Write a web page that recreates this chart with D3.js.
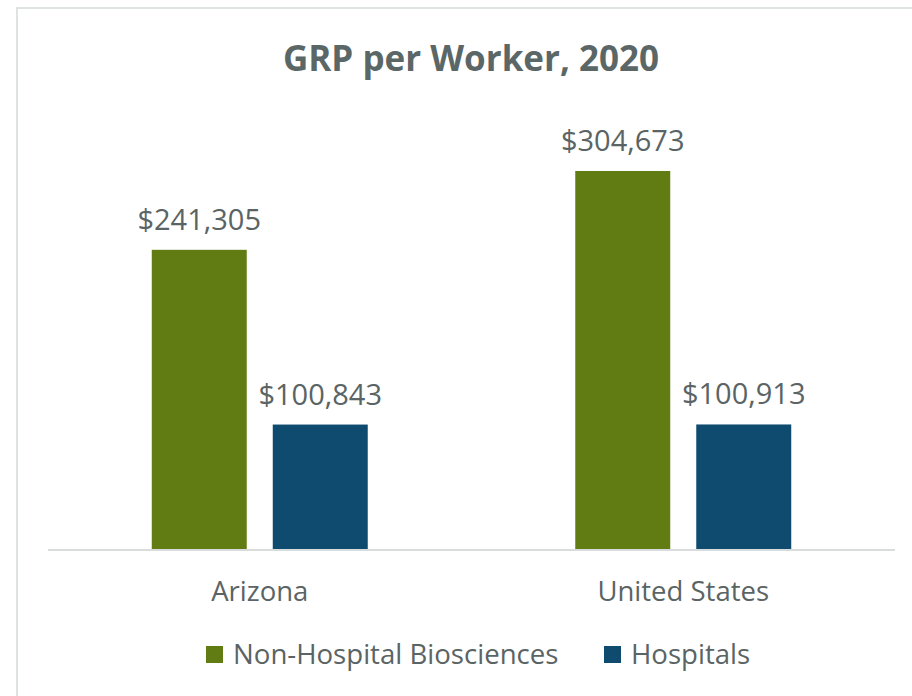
<!DOCTYPE html>
<html>
<head>
<meta charset="utf-8">
<script src="https://cdn.jsdelivr.net/npm/d3@7"></script>
<style>
  body { margin: 0; background: #fff; }
  text { font-family: "Open Sans", "Noto Sans", sans-serif; }
</style>
</head>
<body>
<svg id="chart" width="912" height="696"></svg>
<script>
// Values.
const regions = ["Arizona", "United States"];
const seriesNames = ["Non-Hospital Biosciences", "Hospitals"];
const bioValues = [241305, 304673];
const hospitalValues = [100843, 100913];
const colors = ["#627c14", "#0e4b6f"];

let rows = regions.map((r, i) => ({region: r, values: [bioValues[i], hospitalValues[i]]}));

let svg = d3.select("#chart");

// outer frame
svg.append("rect")
    .attr("x", 17).attr("y", 8)
    .attr("width", 912).attr("height", 720)
    .attr("fill", "none")
    .attr("stroke", "#dfe2e2")
    .attr("stroke-width", 2);

// title
svg.append("text")
    .attr("x", 471).attr("y", 71)
    .attr("text-anchor", "middle")
    .attr("font-size", 35)
    .attr("font-weight", "bold")
    .attr("fill", "#5b6767")
    .text("GRP per Worker, 2020");

let left = 48, right = 895, baseline = 550;

let x0 = d3.scaleBand().domain(regions).range([left, right]);
let x1 = d3.scaleBand().domain([0, 1])
    .range([x0.bandwidth() * 0.245, x0.bandwidth() * 0.755])
    .paddingInner(0.215);
let y = d3.scaleLinear().domain([0, 350000]).range([baseline, baseline - 435.4]);

let fmt = d3.format("$,");

let groups = svg.append("g").selectAll("g")
    .data(rows)
    .enter().append("g")
    .attr("transform", d => `translate(${x0(d.region)},0)`);

groups.selectAll("rect")
    .data(d => d.values)
    .enter().append("rect")
    .attr("x", (d, i) => x1(i))
    .attr("width", x1.bandwidth())
    .attr("y", d => y(d))
    .attr("height", d => baseline - y(d))
    .attr("fill", (d, i) => colors[i]);

groups.selectAll("text.value")
    .data(d => d.values)
    .enter().append("text")
    .attr("class", "value")
    .attr("x", (d, i) => x1(i) + x1.bandwidth() / 2)
    .attr("y", d => y(d) - 20)
    .attr("text-anchor", "middle")
    .attr("font-size", 29)
    .attr("fill", "#5a6464")
    .text(d => fmt(d));

// axis line
svg.append("line")
    .attr("x1", left).attr("x2", right)
    .attr("y1", baseline).attr("y2", baseline)
    .attr("stroke", "#d9dcdc")
    .attr("stroke-width", 2);

// category labels
svg.append("g").selectAll("text")
    .data(regions)
    .enter().append("text")
    .attr("x", d => x0(d) + x0.bandwidth() / 2)
    .attr("y", 601)
    .attr("text-anchor", "middle")
    .attr("font-size", 27.5)
    .attr("fill", "#5a6464")
    .text(d => d);

// legend
let legendX = [206, 604];
let legend = svg.append("g").selectAll("g")
    .data(seriesNames)
    .enter().append("g")
    .attr("transform", (d, i) => `translate(${legendX[i]},646)`);

legend.append("rect")
    .attr("width", 17).attr("height", 17)
    .attr("fill", (d, i) => colors[i]);

legend.append("text")
    .attr("x", 27).attr("y", 18)
    .attr("font-size", 27.6)
    .attr("fill", "#5a6464")
    .text(d => d);
</script>
</body>
</html>
